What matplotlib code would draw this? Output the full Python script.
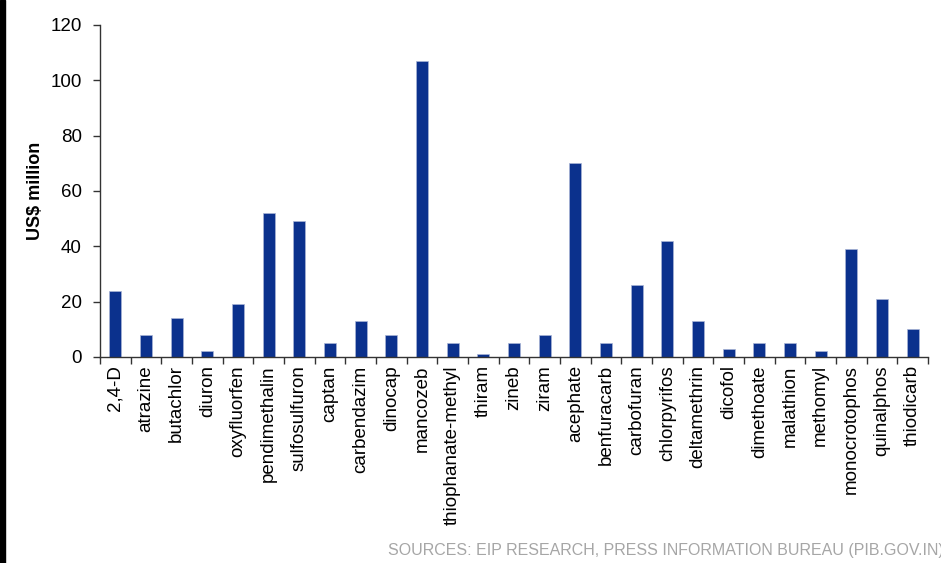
import matplotlib
matplotlib.use("Agg")
import matplotlib.pyplot as plt
from matplotlib.patches import Rectangle
import numpy as np

plt.rcParams['font.family'] = ['Liberation Sans', 'DejaVu Sans']

molecules = ["2,4-D", "atrazine", "butachlor", "diuron", "oxyfluorfen",
             "pendimethalin", "sulfosulfuron", "captan", "carbendazim",
             "dinocap", "mancozeb", "thiophanate-methyl", "thiram", "zineb",
             "ziram", "acephate", "benfuracarb", "carbofuran", "chlorpyrifos",
             "deltamethrin", "dicofol", "dimethoate", "malathion", "methomyl",
             "monocrotophos", "quinalphos", "thiodicarb"]
values = [24, 8, 14, 2, 19, 52, 49, 5, 13, 8, 107, 5, 1, 5, 8, 70, 5, 26,
          42, 13, 3, 5, 5, 2, 39, 21, 10]
y_ticks = [0, 20, 40, 60, 80, 100, 120]

fig = plt.figure(figsize=(9.41, 5.63), dpi=100)
ax = fig.add_axes([100 / 941, 0.3659, 828 / 941, 0.5897])

x = np.arange(len(molecules))
ax.bar(x, values, width=0.40, color="#0b318d", edgecolor="#a8b4d6",
       linewidth=0.5, zorder=2)

ax.set_xlim(-0.5, len(molecules) - 0.5)
ax.set_ylim(0, 120)
ax.set_yticks(y_ticks)
ax.set_yticklabels([str(v) for v in y_ticks], fontsize=13.5)
ax.set_xticks(x)
ax.set_xticklabels(molecules, rotation=90, fontsize=13.5)
ax.set_xticks(np.arange(len(molecules) + 1) - 0.5, minor=True)
ax.tick_params(axis='x', which='major', length=0, pad=6)
ax.tick_params(axis='x', which='minor', length=5, width=1, direction='out',
               color="#333333")
ax.tick_params(axis='y', length=5, width=1, direction='out', color="#333333",
               pad=8)

for side in ("top", "right"):
    ax.spines[side].set_visible(False)
for side in ("left", "bottom"):
    ax.spines[side].set_color("#333333")
    ax.spines[side].set_linewidth(1)

ax.set_ylabel("US$ million", fontsize=13, fontweight="bold")
ax.yaxis.set_label_coords(-56 / 828, 0.5)

fig.text(388 / 941, 1 - 551 / 563, "SOURCES: EIP RESEARCH, PRESS INFORMATION BUREAU (PIB.GOV.IN)",
         fontsize=11.5, color="#a6a6a6", ha="left", va="center")

fig.patches.append(Rectangle((0, 0), 5 / 941, 1, transform=fig.transFigure,
                             color="black", zorder=10))

fig.savefig("out.png", dpi=100)
